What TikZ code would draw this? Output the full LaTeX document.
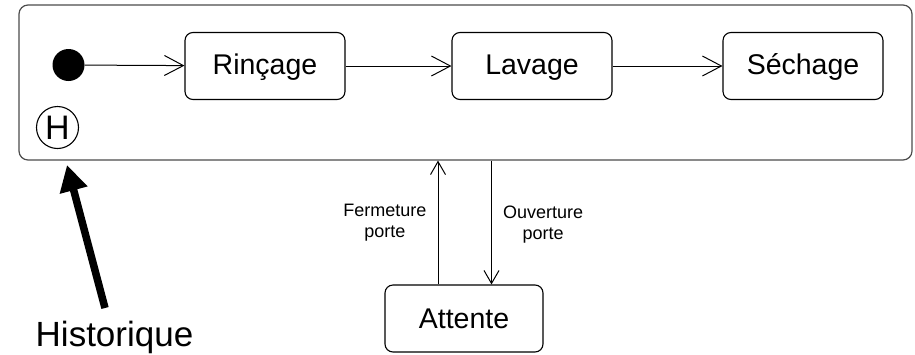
\documentclass[tikz,border=0pt]{standalone}
\usepackage{fontspec}
\setmainfont{Liberation Sans}
\usetikzlibrary{arrows.meta}

\tikzset{
  statebox/.style={draw=black, line width=1.1pt, rounded corners=8pt,
    minimum width=160pt, minimum height=67pt, inner sep=0pt,
    font=\fontsize{28.5}{30}\selectfont, text height=20pt, text depth=4pt},
  composite/.style={draw=black!70, line width=1.2pt, rounded corners=9pt,
    minimum width=893pt, minimum height=155pt, inner sep=0pt},
  hflow/.style={line width=1pt, -{Straight Barb[length=19pt,width=20pt,line width=1pt]}},
  vflow/.style={line width=1pt, -{Straight Barb[length=13pt,width=15pt,line width=1pt]}},
  evlabel/.style={inner sep=0pt, align=center, font=\fontsize{18}{21}\selectfont},
  pointer/.style={line width=7.5pt, -{Triangle[length=26pt,width=27pt]}}
}

\begin{document}
\begin{tikzpicture}[x=1pt,y=-1pt]
  \useasboundingbox (0,0) rectangle (915,354);

  % composite state holding the washing cycle
  \node[composite] (outer) at (465.5,82.5) {};

  % initial pseudostate and history pseudostate
  \node[circle, fill=black, minimum size=32pt, inner sep=0pt] (init) at (68.5,65) {};
  \node[circle, draw=black, line width=1.1pt, minimum size=42pt, inner sep=0pt,
        font=\fontsize{34}{34}\selectfont] (hist) at (57.5,127.5) {H};

  % substates
  \node[statebox] (rinc) at (265,66) {Rinçage};
  \node[statebox] (lav)  at (532,66) {Lavage};
  \node[statebox] (sech) at (803,66) {Séchage};

  % waiting state outside the composite
  \node[statebox, minimum width=158pt, text depth=-3pt] (att) at (464,318.5) {Attente};

  % transitions inside the cycle
  \draw[hflow] (init) -- (rinc);
  \draw[hflow] (rinc) -- (lav);
  \draw[hflow] (lav) -- (sech);

  % door events between the cycle and the waiting state
  \draw[vflow] ([xshift=-26pt]att.north) -- ([xshift=-26pt]att.north |- outer.south)
    node[evlabel, midway, left=11pt] {Fermeture\\porte};
  \draw[vflow] ([xshift=27.5pt]att.north |- outer.south) -- ([xshift=27.5pt]att.north)
    node[evlabel, midway, right=11pt, yshift=-2pt] {Ouverture\\porte};

  % annotation pointing at the history state
  \node[anchor=base, font=\fontsize{35}{35}\selectfont] (histlabel) at (114.5,346.5) {Historique};
  \coordinate (ptail) at (105,308);
  \coordinate (phead) at (67,165);
  \draw[pointer] (ptail) -- (phead);
\end{tikzpicture}
\end{document}
